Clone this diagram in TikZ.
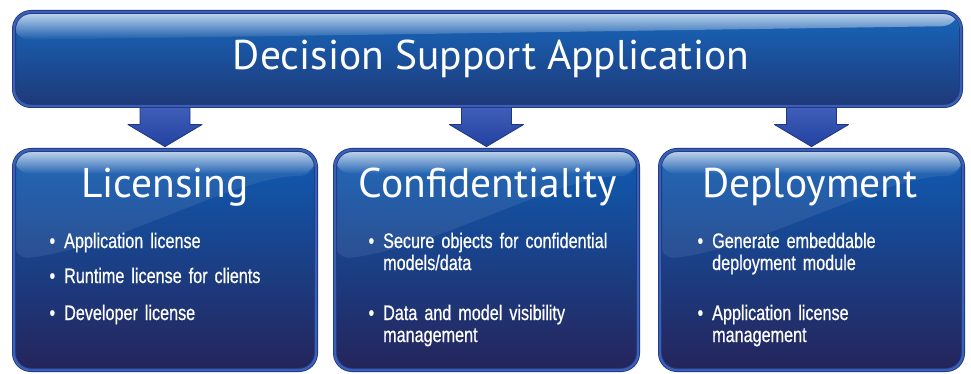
\documentclass[tikz,border=0pt]{standalone}
\usepackage{fontspec}
\newfontfamily\headfont{PT Sans}
\newfontfamily\condfont[FakeStretch=0.77,FakeBold=0.6]{Liberation Sans}
\usetikzlibrary{calc,fadings,shadows}
\pgfdeclarelayer{background}
\pgfsetlayers{background,main}
\definecolor{ringblue}{HTML}{3A60B4}
\definecolor{edgeblue}{HTML}{1E3683}
\definecolor{topA}{HTML}{1767BC}
\definecolor{topB}{HTML}{0A4FA5}
\definecolor{topC}{HTML}{1F3878}
\definecolor{boxA}{HTML}{0F5CB4}
\definecolor{boxB}{HTML}{0B4A9C}
\definecolor{boxC}{HTML}{25245A}
\definecolor{arrA}{HTML}{4262BC}
\definecolor{arrB}{HTML}{2342A0}
\tikzfading[name=glossfade, top color=transparent!25, bottom color=transparent!100]
\tikzset{
  panel/.style={rounded corners=17pt, draw=edgeblue, double=ringblue, double distance=2.4pt,
    line width=0.8pt, inner sep=0pt, text=white,
    drop shadow={shadow xshift=1.5pt, shadow yshift=-1.5pt, fill=black, opacity=0.25}},
  toppic/.style={path picture={
    \shade[top color=topA, middle color=topB, bottom color=topC]
      (path picture bounding box.north west) rectangle (path picture bounding box.south east);
    \fill[white, path fading=glossfade]
      (path picture bounding box.north west) -- (path picture bounding box.north east)
      -- ($(path picture bounding box.north east)+(0,14)$)
      -- ($(path picture bounding box.north west)+(0,28)$) -- cycle;
  }},
  boxpic/.style={path picture={
    \shade[top color=boxA, middle color=boxB, bottom color=boxC]
      (path picture bounding box.north west) rectangle (path picture bounding box.south east);
    \fill[white, opacity=0.08]
      (path picture bounding box.north west) -- (path picture bounding box.north east)
      -- ($(path picture bounding box.north east)+(0,26)$)
      .. controls ($(path picture bounding box.north east)+(-80,26)$)
      and ($(path picture bounding box.north west)+(110,95)$)
      .. ($(path picture bounding box.north west)+(0,110)$) -- cycle;
    \fill[white, path fading=glossfade]
      (path picture bounding box.north west) rectangle ($(path picture bounding box.north east)+(0,24)$);
  }},
  titletext/.style={font=\headfont\fontsize{41.5}{48}\selectfont},
  headtext/.style={text=white, inner sep=0pt, anchor=base, font=\headfont\fontsize{41.5}{46}\selectfont},
  itemtext/.style={text=white, inner sep=0pt, anchor=base west, text width=262pt, align=left,
    font=\condfont\fontsize{21}{22}\selectfont},
  blockarrow/.style={top color=arrA, bottom color=arrB, draw=edgeblue, line width=0.8pt, line join=round},
}
\newcommand\bul{\llap{•\hspace{9pt}}}
\begin{document}
\begin{tikzpicture}[x=1pt,y=-1pt]
\useasboundingbox (0,0) rectangle (971,374);

\node[panel, toppic, minimum width=947pt, minimum height=94pt] (top) at (487.5,59) {};
\node[titletext, text=white, inner sep=0pt, anchor=base] (ttl) at (491,70) {Decision Support Application};
\node[panel, boxpic, minimum width=302pt, minimum height=220pt] (lic) at (165,260) {};
\node[panel, boxpic, minimum width=303pt, minimum height=220pt] (conf) at (486.5,260) {};
\node[panel, boxpic, minimum width=303pt, minimum height=220pt] (dep) at (811.5,260) {};

\begin{pgfonlayer}{background}
\fill[white] (0,0) rectangle (971,374);
\draw[blockarrow, xshift=2pt] let \p1=(top.south -| lic.north), \p2=(lic.north) in
  (\x1-25pt,\y1+4pt) -- (\x1-25pt,\y2+25pt) -- (\x1-37pt,\y2+25pt) -- (\x1,\y2+3pt)
  -- (\x1+37pt,\y2+25pt) -- (\x1+25pt,\y2+25pt) -- (\x1+25pt,\y1+4pt) -- cycle;
\draw[blockarrow, xshift=-3.5pt] let \p1=(top.south -| conf.north), \p2=(conf.north) in
  (\x1-25pt,\y1+4pt) -- (\x1-25pt,\y2+25pt) -- (\x1-37pt,\y2+25pt) -- (\x1,\y2+3pt)
  -- (\x1+37pt,\y2+25pt) -- (\x1+25pt,\y2+25pt) -- (\x1+25pt,\y1+4pt) -- cycle;
\draw[blockarrow, xshift=5.5pt] let \p1=(top.south -| dep.north), \p2=(dep.north) in
  (\x1-25pt,\y1+4pt) -- (\x1-25pt,\y2+25pt) -- (\x1-37pt,\y2+25pt) -- (\x1,\y2+3pt)
  -- (\x1+37pt,\y2+25pt) -- (\x1+25pt,\y2+25pt) -- (\x1+25pt,\y1+4pt) -- cycle;
\end{pgfonlayer}

\node[headtext] (lich) at (165,197) {Licensing};
\node[headtext] (confh) at (488,197) {Confidentiality};
\node[headtext] (deph) at (810,197) {Deployment};

\node[itemtext] (l1) at (64,248) {\bul Application license};
\node[itemtext] (l2) at (64,283) {\bul Runtime license for clients};
\node[itemtext] (l3) at (64,320) {\bul Developer license};

\node[itemtext] (c1) at (383,248) {\bul Secure objects for confidential\\models/data};
\node[itemtext] (c2) at (383,320) {\bul Data and model visibility\\management};

\node[itemtext] (d1) at (712,248) {\bul Generate embeddable\\deployment module};
\node[itemtext] (d2) at (712,320) {\bul Application license\\management};
\end{tikzpicture}
\end{document}
